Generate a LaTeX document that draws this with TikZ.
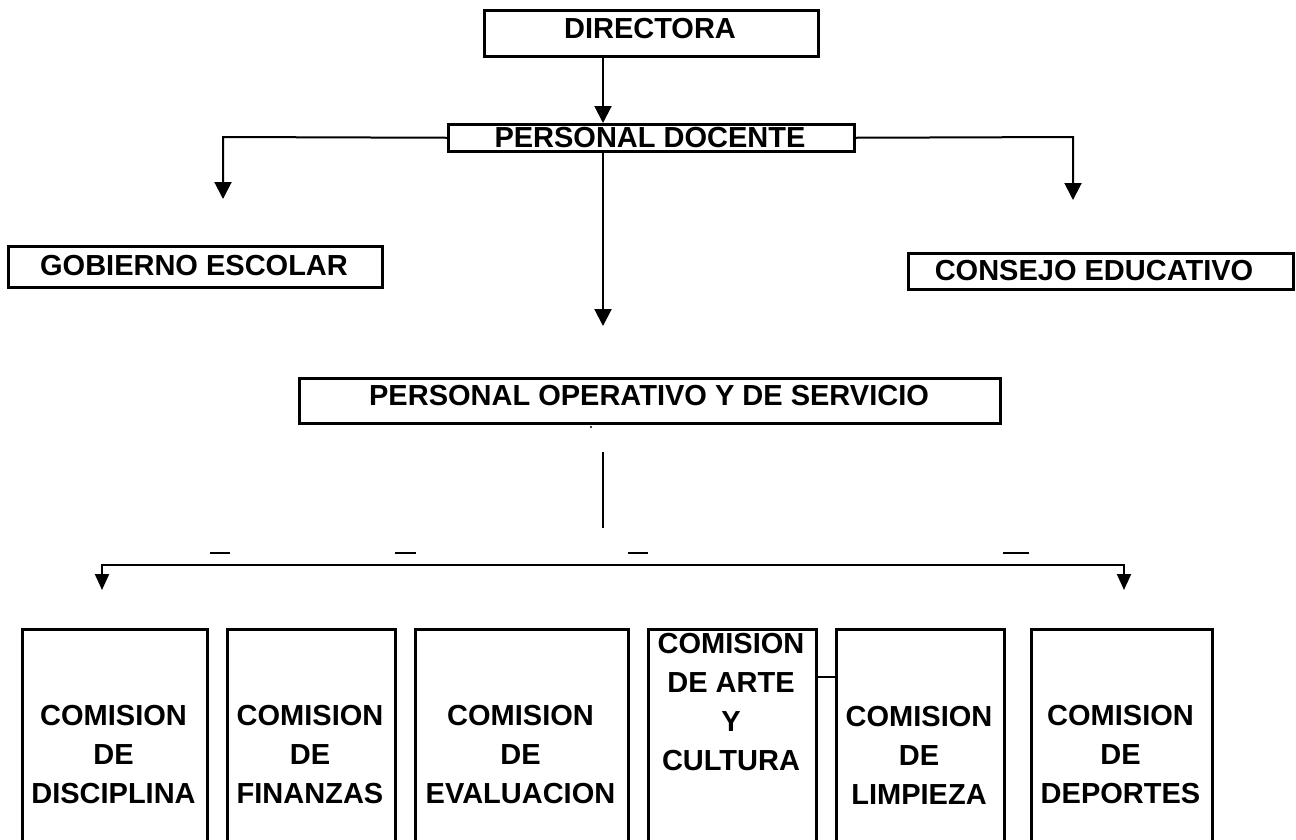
\documentclass[tikz,border=0pt]{standalone}
\usepackage{fontspec}
\setmainfont{Liberation Sans}
\usetikzlibrary{arrows.meta}
\begin{document}
\begin{tikzpicture}[x=1pt,y=-1pt,
  box/.style={draw,line width=2.5pt,inner sep=0pt,font=\fontsize{29}{39}\selectfont\bfseries},
  lbl/.style={inner sep=0pt,align=center,font=\fontsize{29}{39}\selectfont\bfseries},
  conn/.style={line width=2pt},
  bigarrow/.style={conn,-{Triangle[width=17pt,length=17pt]}},
  smallarrow/.style={conn,-{Triangle[width=14pt,length=16pt]}}]
\useasboundingbox (0,0) rectangle (1296,839);
\clip (0,0) rectangle (1296,839);
% top boxes
\node[box,minimum width=334pt,minimum height=46pt,anchor=north west] (dir) at (483,9) {};
\node[lbl] (dirt) at (650,29) {DIRECTORA};
\node[box,minimum width=406pt,minimum height=27pt,anchor=north west] (pd) at (447,123) {};
\node[lbl] (pdt) at (650,138) {PERSONAL DOCENTE};
\node[box,minimum width=374pt,minimum height=41pt,anchor=north west] (gob) at (7,245) {};
\node[lbl] (gobt) at (194,266) {GOBIERNO ESCOLAR};
\node[box,minimum width=385pt,minimum height=36pt,anchor=north west] (con) at (907,252) {};
\node[lbl] (cont) at (1094,271) {CONSEJO EDUCATIVO};
\node[box,minimum width=701pt,minimum height=45pt,anchor=north west] (po) at (298,377) {};
\node[lbl] (pot) at (649,396) {PERSONAL OPERATIVO Y DE SERVICIO};
% bottom boxes
\node[box,minimum width=185pt,minimum height=260pt,anchor=north west] (b1) at (21,628) {};
\node[box,minimum width=168pt,minimum height=260pt,anchor=north west] (b2) at (226,628) {};
\node[box,minimum width=213pt,minimum height=260pt,anchor=north west] (b3) at (414,628) {};
\node[box,minimum width=168pt,minimum height=260pt,anchor=north west] (b4) at (647,628) {};
\node[box,minimum width=168pt,minimum height=260pt,anchor=north west] (b5) at (835,628) {};
\node[box,minimum width=181pt,minimum height=260pt,anchor=north west] (b6) at (1030,628) {};
\node[lbl] (t1) at (113.5,755) {COMISION\\DE\\DISCIPLINA};
\node[lbl] (t2) at (310,755) {COMISION\\DE\\FINANZAS};
\node[lbl] (t3) at (520.5,755) {COMISION\\DE\\EVALUACION};
\node[lbl] (t4) at (731,702) {COMISION\\DE ARTE\\Y\\CULTURA};
\node[lbl] (t5) at (919,755) {COMISION\\DE\\LIMPIEZA};
\node[lbl] (t6) at (1120.5,755) {COMISION\\DE\\DEPORTES};
% coordinates
\coordinate (cx) at (603,0);
\coordinate (gl) at (223,137);
\coordinate (gtip) at (223,199);
\coordinate (cr) at (1073,137);
\coordinate (ctip) at (1073,200);
\coordinate (ptip) at (603,326);
\coordinate (vt) at (603,452);
\coordinate (vb) at (603,528);
\coordinate (hl) at (102,565);
\coordinate (hr) at (1124,565);
\coordinate (ltip) at (102,590);
\coordinate (rtip) at (1124,590);
% connectors
\draw[bigarrow] (cx |- dir.south) -- (cx |- pd.north);
\draw[bigarrow] (pd.west) -- (gl) -- (gtip);
\draw[bigarrow] (pd.east) -- (cr) -- (ctip);
\draw[bigarrow] (cx |- pd.south) -- (ptip);
\fill (591,427) circle (1.2pt);
\draw[conn] (vt) -- (vb);
\draw[smallarrow] (hr) -- (hl) -- (ltip);
\draw[smallarrow] (hl) -- (hr) -- (rtip);
\draw[conn] (b4.east |- 0,677) -- (b5.west |- 0,677);
% dashes
\draw[line width=2pt] (210,553) -- (230,553);
\draw[line width=2pt] (395,553) -- (416,553);
\draw[line width=2pt] (628,553) -- (648,553);
\draw[line width=2pt] (1003,553) -- (1029,553);
\end{tikzpicture}
\end{document}
